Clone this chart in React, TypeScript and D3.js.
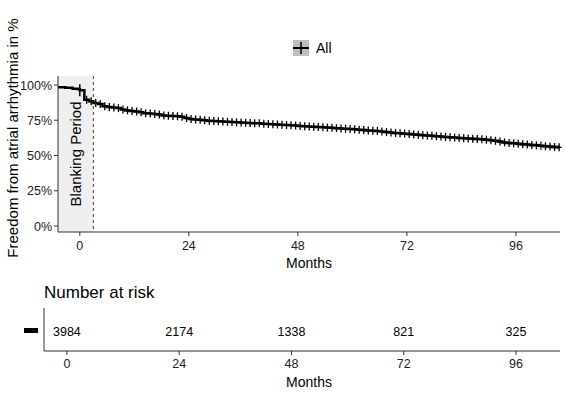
import React from "react";
import * as d3 from "d3";

// KM estimate (months, % free of arrhythmia)
const preMonths = [-4.8, -3.2, -1.6, -0.4];
const preSurv = [98.4, 98.0, 97.4, 96.9];

const months = d3.range(0, 106);
const surv = [
  96.2, 89.5, 88.5, 87.2, 86.5, 85.0, 84.4, 84.0, 83.6, 82.6,
  82.0, 81.6, 81.2, 80.6, 80.0, 79.8, 79.5, 79.0, 78.4, 78.2,
  78.0, 77.8, 77.5, 76.6, 75.9, 75.6, 75.3, 75.0, 74.7, 74.5,
  74.3, 74.1, 73.9, 73.7, 73.5, 73.4, 73.2, 73.0, 72.9, 72.8,
  72.6, 72.4, 72.2, 72.0, 71.8, 71.6, 71.4, 71.2, 71.0, 70.8,
  70.6, 70.4, 70.2, 70.0, 69.8, 69.6, 69.4, 69.2, 69.0, 68.8,
  68.6, 68.3, 68.0, 67.8, 67.6, 67.4, 67.0, 66.6, 66.3, 66.0,
  65.8, 65.5, 65.2, 64.9, 64.7, 64.4, 64.2, 64.0, 63.7, 63.4,
  63.2, 62.9, 62.7, 62.5, 62.3, 62.1, 61.9, 61.7, 61.6, 61.2,
  60.8, 60.4, 59.9, 59.3, 58.9, 58.6, 58.3, 58.0, 57.8, 57.5,
  57.2, 57.0, 56.6, 56.3, 56.0, 55.8,
];
// half-width of the confidence band, per 12-month block
const ciHalf = [0.4, 0.5, 0.6, 0.7, 0.8, 0.9, 1.0, 1.2, 1.4];

const xTicks = [0, 24, 48, 72, 96];
const yTicks = [0, 25, 50, 75, 100];
const riskTimes = [0, 24, 48, 72, 96];
const riskCounts = [3984, 2174, 1338, 821, 325];
const blankingEnd = 3;

const font = "'Liberation Sans', Arial, sans-serif";

export default function App() {
  const x = d3.scaleLinear().domain([-4.8, 105.7]).range([58, 560]);
  const y = d3.scaleLinear().domain([0, 100]).range([226, 85]);
  const xr = d3.scaleLinear().domain([-4.9, 105.4]).range([44, 560]);

  const pts: [number, number][] = [];
  preMonths.forEach((m, i) => pts.push([m, preSurv[i]]));
  months.forEach((m, i) => pts.push([m, surv[i]]));
  pts.push([105.7, surv[surv.length - 1]]);

  const step = d3
    .line<[number, number]>()
    .x((d) => x(d[0]))
    .y((d) => y(d[1]))
    .curve(d3.curveStepAfter);

  const band = d3
    .area<[number, number]>()
    .x((d) => x(d[0]))
    .y0((d) => y(d[1] - ciHalf[Math.min(8, Math.max(0, Math.floor(d[0] / 12)))]))
    .y1((d) => y(d[1] + ciHalf[Math.min(8, Math.max(0, Math.floor(d[0] / 12)))]))
    .curve(d3.curveStepAfter);

  const panelTop = 76;
  const panelBottom = 232;

  return (
    <svg
      width={566}
      height={396}
      style={{ position: "absolute", left: 0, top: 0, background: "#fff" }}
      fontFamily={font}
    >
      {/* legend */}
      <rect x={293} y={40} width={16} height={16} fill="#bdbdbd" />
      <line x1={293} x2={309} y1={48} y2={48} stroke="#000" strokeWidth={2} />
      <line x1={301} x2={301} y1={42} y2={54} stroke="#000" strokeWidth={1.5} />
      <text x={316} y={53} fontSize={14} fill="#000">All</text>

      {/* blanking period */}
      <rect x={58} y={panelTop} width={x(blankingEnd) - 58} height={panelBottom - panelTop} fill="#efefef" />
      <line
        x1={x(blankingEnd)}
        x2={x(blankingEnd)}
        y1={panelTop}
        y2={panelBottom}
        stroke="#444"
        strokeDasharray="3,3"
        strokeWidth={1}
      />
      <text
        transform={`translate(81,154) rotate(-90)`}
        textAnchor="middle"
        fontSize={15}
        fill="#000"
      >
        Blanking Period
      </text>

      {/* curve */}
      <path d={band(pts) ?? ""} fill="#999" opacity={0.45} />
      <path d={step(pts) ?? ""} fill="none" stroke="#000" strokeWidth={2.5} />
      {months.slice(1).map((m, i) => {
        const v = surv[i + 1];
        const cx = x(m + 0.5);
        const cy = y(v);
        return (
          <g key={m}>
            <line x1={cx} x2={cx} y1={cy - 4} y2={cy + 4} stroke="#000" strokeWidth={1.3} />
            <line x1={cx - 2.5} x2={cx + 2.5} y1={cy} y2={cy} stroke="#000" strokeWidth={1.3} />
          </g>
        );
      })}
      <line x1={x(0)} x2={x(0)} y1={y(surv[0]) - 6} y2={y(surv[0]) + 6} stroke="#000" strokeWidth={1.5} />

      {/* axes top */}
      <line x1={58} x2={58} y1={panelTop} y2={panelBottom} stroke="#333" />
      <line x1={58} x2={560} y1={panelBottom} y2={panelBottom} stroke="#333" />
      {yTicks.map((t) => (
        <g key={t}>
          <line x1={54} x2={58} y1={y(t)} y2={y(t)} stroke="#333" />
          <text x={52} y={y(t) + 4.5} textAnchor="end" fontSize={12.5} fill="#222">{t}%</text>
        </g>
      ))}
      {xTicks.map((t) => (
        <g key={t}>
          <line x1={x(t)} x2={x(t)} y1={panelBottom} y2={panelBottom + 4} stroke="#333" />
          <text x={x(t)} y={250} textAnchor="middle" fontSize={12.5} fill="#222">{t}</text>
        </g>
      ))}
      <text x={309} y={268} textAnchor="middle" fontSize={14} fill="#000">Months</text>
      <text
        transform="translate(18,138) rotate(-90)"
        textAnchor="middle"
        fontSize={15}
        fill="#000"
      >
        Freedom from atrial arrhythmia in %
      </text>

      {/* risk table */}
      <text x={44} y={298} fontSize={17} fill="#000">Number at risk</text>
      <rect x={24} y={328} width={14} height={5} fill="#000" />
      <line x1={44} x2={44} y1={308} y2={351} stroke="#333" />
      <line x1={44} x2={560} y1={351} y2={351} stroke="#333" />
      {riskTimes.map((t, i) => (
        <g key={t}>
          <text x={xr(t)} y={335.5} textAnchor="middle" fontSize={12.5} fill="#000">
            {riskCounts[i]}
          </text>
          <line x1={xr(t)} x2={xr(t)} y1={351} y2={355} stroke="#333" />
          <text x={xr(t)} y={368} textAnchor="middle" fontSize={12.5} fill="#222">{t}</text>
        </g>
      ))}
      <text x={309} y={387} textAnchor="middle" fontSize={14} fill="#000">Months</text>
    </svg>
  );
}
